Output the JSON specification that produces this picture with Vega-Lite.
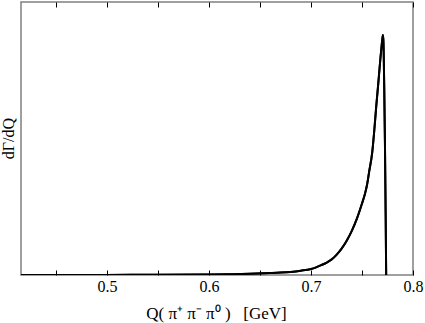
{
  "$schema": "https://vega.github.io/schema/vega-lite/v6.json",
  "width": 392,
  "height": 273,
  "autosize": {"type": "none"},
  "padding": {"left": 21, "top": 2, "right": 12, "bottom": 48},
  "background": "white",
  "config": {
    "view": {"stroke": "#808080", "strokeWidth": 1.5},
    "font": "Liberation Serif",
    "axis": {
      "labelFont": "Liberation Serif",
      "titleFont": "Liberation Serif",
      "labelColor": "black",
      "titleColor": "black",
      "labelFontSize": 16,
      "titleFontSize": 17,
      "titleFontWeight": "normal",
      "grid": false,
      "domain": false,
      "tickColor": "black",
      "tickWidth": 1
    }
  },
  "data": {
    "values": [
      {"q": 0.4157, "r": 0.0},
      {"q": 0.45, "r": 0.0002},
      {"q": 0.50, "r": 0.0005},
      {"q": 0.55, "r": 0.001},
      {"q": 0.60, "r": 0.002},
      {"q": 0.62, "r": 0.003},
      {"q": 0.64, "r": 0.005},
      {"q": 0.66, "r": 0.008},
      {"q": 0.67, "r": 0.010},
      {"q": 0.68, "r": 0.013},
      {"q": 0.69, "r": 0.018},
      {"q": 0.70, "r": 0.025},
      {"q": 0.705, "r": 0.032},
      {"q": 0.71, "r": 0.041},
      {"q": 0.715, "r": 0.051},
      {"q": 0.72, "r": 0.064},
      {"q": 0.725, "r": 0.084},
      {"q": 0.73, "r": 0.110},
      {"q": 0.735, "r": 0.143},
      {"q": 0.74, "r": 0.184},
      {"q": 0.745, "r": 0.235},
      {"q": 0.75, "r": 0.298},
      {"q": 0.753, "r": 0.34},
      {"q": 0.755, "r": 0.377},
      {"q": 0.757, "r": 0.43},
      {"q": 0.76, "r": 0.51},
      {"q": 0.762, "r": 0.60},
      {"q": 0.764, "r": 0.705},
      {"q": 0.766, "r": 0.80},
      {"q": 0.768, "r": 0.90},
      {"q": 0.769, "r": 0.945},
      {"q": 0.770, "r": 0.985},
      {"q": 0.7705, "r": 1.0},
      {"q": 0.7710, "r": 0.975},
      {"q": 0.7718, "r": 0.78},
      {"q": 0.7725, "r": 0.55},
      {"q": 0.7732, "r": 0.25},
      {"q": 0.7736, "r": 0.05},
      {"q": 0.7737, "r": 0.0}
    ]
  },
  "encoding": {
    "x": {
      "field": "q",
      "type": "quantitative",
      "scale": {"domain": [0.4157, 0.8], "nice": false, "zero": false}
    },
    "y": {
      "field": "r",
      "type": "quantitative",
      "scale": {"domain": [0, 1.1375], "nice": false},
      "axis": {
        "title": "dΓ/dQ",
        "labels": false,
        "ticks": false,
        "titleFontSize": 16,
        "titleAngle": -90,
        "titleBaseline": "alphabetic",
        "titleAlign": "center",
        "titleX": -7.5,
        "titleY": 136
      }
    }
  },
  "layer": [
    {
      "mark": {"type": "line", "color": "black", "strokeWidth": 2, "clip": true, "interpolate": "monotone"},
      "encoding": {
        "x": {
          "field": "q",
          "type": "quantitative",
          "axis": {
            "orient": "bottom",
            "title": "Q(\u00a0π⁺\u00a0π⁻\u00a0π⁰\u00a0)\u00a0\u00a0\u00a0[GeV]",
            "values": [0.45, 0.5, 0.55, 0.6, 0.65, 0.7, 0.75, 0.8],
            "labelExpr": "(round(datum.value*100) % 10 == 0) ? format(datum.value, '.1f') : ''",
            "tickSize": -5,
            "labelPadding": 8,
            "titleBaseline": "alphabetic",
            "titleAlign": "center",
            "titleX": 195,
            "titleY": 43,
            "labelFlush": false,
            "labelOverlap": false
          }
        }
      }
    },
    {
      "mark": {"type": "line", "color": "black", "strokeWidth": 2, "clip": true, "interpolate": "monotone"},
      "encoding": {
        "x": {
          "field": "q",
          "type": "quantitative",
          "axis": {
            "orient": "top",
            "title": null,
            "labels": false,
            "values": [0.45, 0.5, 0.55, 0.6, 0.65, 0.7, 0.75, 0.8],
            "tickSize": -5
          }
        }
      }
    }
  ],
  "resolve": {"axis": {"x": "independent"}}
}
